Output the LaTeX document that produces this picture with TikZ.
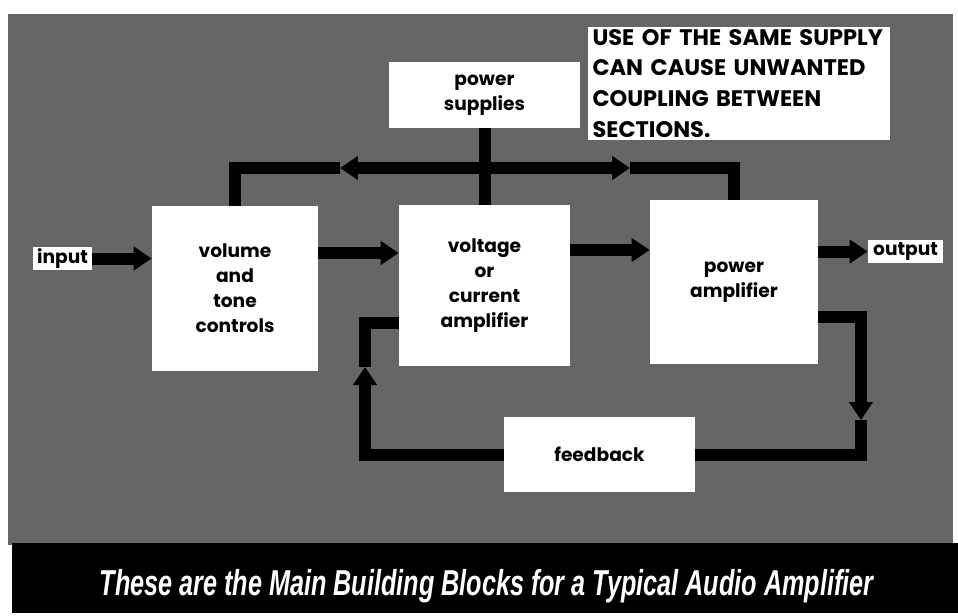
\documentclass[tikz,border=0pt]{standalone}
\usepackage{fontspec}
\setmainfont{Poppins}
\newfontfamily\capfont{Liberation Sans}[FakeStretch=0.70]
\usetikzlibrary{arrows.meta}
\definecolor{screen}{gray}{0.4}

\tikzset{
  block/.style={fill=white, inner sep=0pt, align=center,
    font=\bfseries\fontsize{10.6}{14.2}\selectfont},
  tag/.style={block, minimum width=1.18cm, minimum height=0.46cm},
  bar/.style={line width=0.24cm},
  arr/.style={bar, -{Triangle[width=0.46cm,length=0.36cm]}}
}

\begin{document}
\begin{tikzpicture}[x=0.02cm, y=-0.02cm]
\useasboundingbox (0,0) rectangle (958,616);
% screened panel and caption strip
\fill[screen] (8,14) rectangle (953,545);
\fill[black] (12,543) rectangle (958,613);

\node[block, minimum width=3.32cm, minimum height=3.3cm] (vtc) at (235,288.5)
  {volume\\and\\tone\\controls};
\node[block, minimum width=3.42cm, minimum height=3.22cm] (vca) at (484.5,285.5)
  {voltage\\or\\current\\amplifier};
\node[block, minimum width=3.36cm, minimum height=3.28cm] (pa) at (734,282)
  {power\\amplifier};
\node[block, minimum width=3.82cm, minimum height=1.32cm] (ps) at (484.5,95)
  {power\\supplies};
\node[block, minimum width=3.82cm, minimum height=1.5cm] (fb) at (599.5,454.5)
  {feedback};
\node[block, minimum width=6.04cm, minimum height=2.26cm, align=left,
      text width=5.86cm, font=\bfseries\fontsize{12.8}{17.6}\selectfont] (note) at (739,83.5)
  {USE OF THE SAME SUPPLY\\CAN CAUSE UNWANTED\\COUPLING BETWEEN\\SECTIONS.};
\node[tag] (in) at (62.5,258.5) {input};
\node[tag, minimum width=1.5cm] (out) at (905.5,251.5) {output};

% signal path
\draw[arr] (in.east) -- (in.east -| vtc.west);
\draw[arr] (vtc.east |- 0,253) -- (vca.west |- 0,253);
\draw[arr] (vca.east |- 0,250) -- (pa.west |- 0,250);
\draw[arr] (pa.east |- out) -- (out.west);

% supply bus
\coordinate (bus) at (484.5,168);
\coordinate (tipL) at (340,168);
\coordinate (tipR) at (630,168);
\draw[bar] (ps.south) -- (vca.north);
\draw[arr] (bus) -- (tipL);
\draw[bar] (tipL) -| (vtc.north);
\draw[arr] (bus) -- (tipR);
\draw[bar] (tipR) -| (pa.north);

% feedback loop
\coordinate (tipD) at (861,420);
\coordinate (tipU) at (365,367);
\draw[arr] (pa.east |- 0,317) -| (tipD);
\draw[bar] (tipD) |- (fb.east);
\draw[arr] (fb.west) -| (tipU);
\draw[bar] (tipU) |- (vca.west |- 0,323);

\node[anchor=base, text=white, inner sep=0pt,
      font=\capfont\bfseries\itshape\fontsize{20.5}{24}\selectfont] (cap) at (486.5,595)
  {These are the Main Building Blocks for a Typical Audio Amplifier};
\end{tikzpicture}
\end{document}
